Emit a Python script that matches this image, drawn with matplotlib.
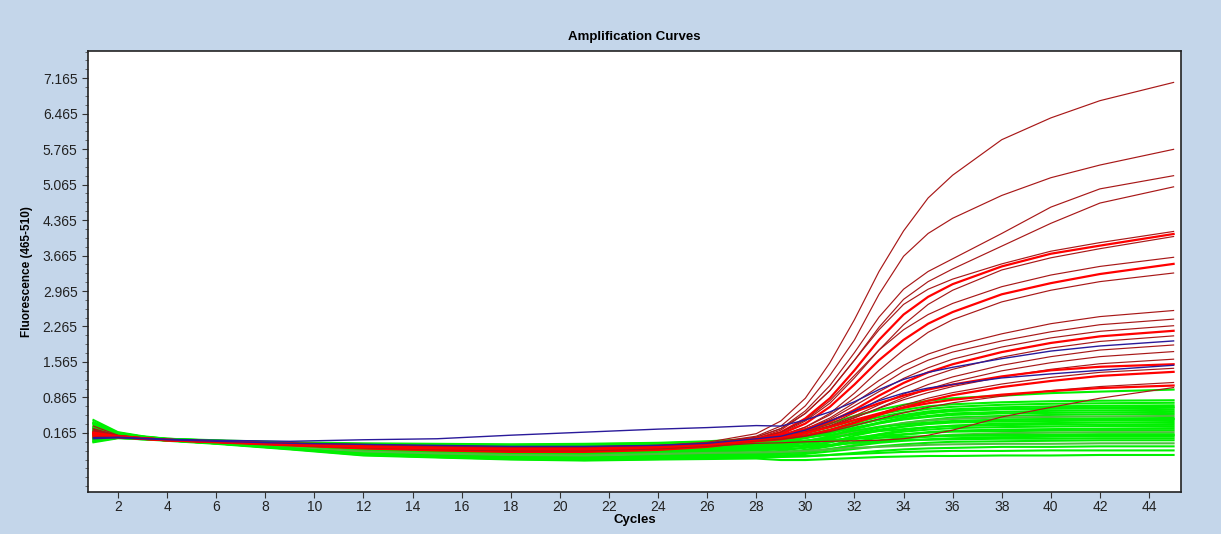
import matplotlib
matplotlib.use("Agg")
import matplotlib.pyplot as plt
from matplotlib.ticker import FixedLocator, MultipleLocator

CYCLES = [1, 2, 3, 4, 6, 9, 12, 15, 18, 21, 24, 26, 28, 29, 30, 31, 32, 33, 34, 35, 36, 38, 40, 42, 45]

# positive samples (red)
R1 = [0.30, 0.12, 0.07, 0.04, 0.00, -0.05, -0.10, -0.12, -0.14, -0.12, -0.08, -0.02, 0.15, 0.40, 0.85, 1.55, 2.40, 3.35, 4.15, 4.80, 5.25, 5.95, 6.38, 6.72, 7.08]
R2 = [0.20, 0.10, 0.06, 0.03, 0.00, -0.06, -0.12, -0.14, -0.16, -0.15, -0.10, -0.04, 0.10, 0.30, 0.70, 1.30, 2.00, 2.90, 3.65, 4.10, 4.40, 4.85, 5.20, 5.45, 5.76]
R3 = [0.15, 0.09, 0.06, 0.03, -0.01, -0.04, -0.08, -0.12, -0.15, -0.14, -0.10, -0.05, 0.08, 0.25, 0.60, 1.10, 1.75, 2.45, 3.00, 3.35, 3.60, 4.10, 4.62, 4.98, 5.24]
R4 = [0.12, 0.08, 0.05, 0.02, -0.02, -0.06, -0.10, -0.14, -0.18, -0.18, -0.13, -0.07, 0.05, 0.22, 0.55, 1.00, 1.60, 2.25, 2.80, 3.15, 3.40, 3.85, 4.30, 4.70, 5.02]
R5 = [0.25, 0.11, 0.06, 0.03, 0.00, -0.03, -0.06, -0.10, -0.12, -0.12, -0.09, -0.04, 0.08, 0.25, 0.55, 1.00, 1.60, 2.20, 2.70, 3.00, 3.20, 3.50, 3.75, 3.92, 4.14]
R6 = [0.18, 0.10, 0.06, 0.03, -0.01, -0.05, -0.10, -0.13, -0.16, -0.16, -0.12, -0.06, 0.05, 0.18, 0.45, 0.85, 1.40, 2.00, 2.50, 2.85, 3.10, 3.45, 3.70, 3.86, 4.09]
R7 = [0.10, 0.08, 0.05, 0.02, -0.02, -0.07, -0.13, -0.16, -0.19, -0.19, -0.15, -0.09, 0.03, 0.15, 0.40, 0.75, 1.25, 1.80, 2.30, 2.70, 2.98, 3.38, 3.62, 3.80, 4.04]
R8 = [0.22, 0.11, 0.06, 0.03, 0.00, -0.04, -0.08, -0.11, -0.13, -0.13, -0.10, -0.05, 0.05, 0.18, 0.42, 0.80, 1.30, 1.80, 2.20, 2.50, 2.72, 3.05, 3.28, 3.45, 3.63]
R9 = [0.14, 0.09, 0.05, 0.02, -0.01, -0.06, -0.11, -0.14, -0.17, -0.17, -0.13, -0.08, 0.04, 0.14, 0.35, 0.68, 1.12, 1.60, 2.00, 2.32, 2.55, 2.90, 3.12, 3.30, 3.50]
R10 = [0.08, 0.07, 0.05, 0.02, -0.02, -0.08, -0.14, -0.17, -0.20, -0.20, -0.16, -0.10, 0.02, 0.10, 0.28, 0.55, 0.95, 1.40, 1.80, 2.15, 2.40, 2.75, 2.98, 3.15, 3.32]
R11 = [0.18, 0.10, 0.06, 0.03, 0.00, -0.05, -0.09, -0.12, -0.14, -0.14, -0.11, -0.06, 0.04, 0.12, 0.28, 0.52, 0.85, 1.20, 1.50, 1.72, 1.88, 2.12, 2.32, 2.46, 2.58]
R12 = [0.12, 0.09, 0.05, 0.02, -0.01, -0.07, -0.12, -0.15, -0.18, -0.18, -0.14, -0.09, 0.02, 0.10, 0.24, 0.46, 0.76, 1.08, 1.38, 1.60, 1.76, 1.98, 2.16, 2.30, 2.41]
R13 = [0.22, 0.11, 0.06, 0.03, 0.00, -0.04, -0.08, -0.10, -0.12, -0.12, -0.09, -0.05, 0.04, 0.11, 0.24, 0.43, 0.70, 0.98, 1.24, 1.45, 1.62, 1.86, 2.04, 2.17, 2.28]
R14 = [0.16, 0.10, 0.06, 0.03, -0.01, -0.06, -0.11, -0.14, -0.16, -0.16, -0.12, -0.07, 0.03, 0.09, 0.20, 0.38, 0.62, 0.90, 1.15, 1.36, 1.52, 1.76, 1.94, 2.07, 2.18]
R15 = [0.10, 0.08, 0.05, 0.02, -0.02, -0.08, -0.14, -0.17, -0.20, -0.20, -0.16, -0.10, 0.01, 0.07, 0.18, 0.34, 0.56, 0.82, 1.06, 1.26, 1.42, 1.66, 1.84, 1.97, 2.08]
R16 = [0.20, 0.10, 0.06, 0.03, 0.00, -0.05, -0.09, -0.12, -0.14, -0.14, -0.10, -0.05, 0.03, 0.08, 0.17, 0.31, 0.50, 0.72, 0.93, 1.12, 1.27, 1.50, 1.67, 1.80, 1.90]
R17 = [0.13, 0.09, 0.05, 0.02, -0.01, -0.07, -0.12, -0.15, -0.18, -0.17, -0.13, -0.08, 0.02, 0.07, 0.15, 0.28, 0.46, 0.66, 0.86, 1.03, 1.17, 1.39, 1.55, 1.67, 1.77]
R18 = [0.24, 0.11, 0.06, 0.03, 0.00, -0.04, -0.07, -0.09, -0.11, -0.11, -0.08, -0.04, 0.04, 0.09, 0.17, 0.30, 0.47, 0.65, 0.82, 0.96, 1.08, 1.27, 1.42, 1.53, 1.62]
R19 = [0.14, 0.09, 0.05, 0.02, -0.01, -0.06, -0.12, -0.15, -0.17, -0.17, -0.13, -0.08, 0.01, 0.05, 0.12, 0.23, 0.38, 0.55, 0.71, 0.85, 0.96, 1.13, 1.26, 1.36, 1.44]
R20 = [0.09, 0.08, 0.05, 0.02, -0.02, -0.08, -0.14, -0.18, -0.21, -0.21, -0.17, -0.11, 0.00, 0.04, 0.11, 0.22, 0.36, 0.52, 0.67, 0.80, 0.91, 1.07, 1.19, 1.29, 1.37]
R21 = [0.19, 0.10, 0.06, 0.03, 0.00, -0.05, -0.10, -0.12, -0.14, -0.14, -0.11, -0.06, 0.01, 0.04, 0.10, 0.19, 0.31, 0.44, 0.56, 0.67, 0.76, 0.89, 1.00, 1.08, 1.16]
R22 = [0.11, 0.08, 0.05, 0.02, -0.02, -0.07, -0.13, -0.16, -0.19, -0.19, -0.15, -0.10, -0.04, -0.03, -0.01, 0.00, 0.01, 0.02, 0.05, 0.12, 0.22, 0.48, 0.67, 0.85, 1.06]
R23 = [0.17, 0.10, 0.06, 0.03, 0.00, -0.05, -0.10, -0.13, -0.15, -0.15, -0.11, -0.06, 0.05, 0.12, 0.24, 0.40, 0.58, 0.75, 0.90, 1.02, 1.12, 1.28, 1.40, 1.47, 1.52]
R24 = [0.13, 0.09, 0.05, 0.02, -0.01, -0.06, -0.11, -0.14, -0.16, -0.16, -0.12, -0.07, 0.03, 0.08, 0.16, 0.28, 0.42, 0.55, 0.66, 0.75, 0.82, 0.92, 0.99, 1.05, 1.10]

# blue samples
B1 = [0.07, 0.08, 0.06, 0.04, 0.02, 0.00, 0.03, 0.05, 0.12, 0.18, 0.24, 0.27, 0.31, 0.30, 0.42, 0.58, 0.78, 1.02, 1.22, 1.36, 1.46, 1.63, 1.78, 1.88, 1.98]
B2 = [0.05, 0.07, 0.05, 0.03, 0.00, -0.04, -0.06, -0.08, -0.10, -0.10, -0.08, -0.04, 0.05, 0.10, 0.22, 0.40, 0.60, 0.80, 0.95, 1.05, 1.12, 1.25, 1.33, 1.40, 1.50]

# negative samples (green)
G1 = [0.42, 0.18, 0.10, 0.05, 0.02, -0.02, -0.04, -0.05, -0.06, -0.05, -0.03, 0.00, 0.05, 0.09, 0.16, 0.28, 0.41, 0.53, 0.62, 0.69, 0.73, 0.77, 0.79, 0.80, 0.81]
G2 = [0.36, 0.16, 0.09, 0.04, 0.01, -0.04, -0.07, -0.08, -0.10, -0.09, -0.06, -0.03, 0.00, 0.04, 0.11, 0.23, 0.36, 0.48, 0.57, 0.64, 0.68, 0.72, 0.74, 0.75, 0.76]
G3 = [0.30, 0.14, 0.08, 0.04, 0.00, -0.06, -0.10, -0.12, -0.14, -0.14, -0.11, -0.08, -0.05, -0.01, 0.06, 0.18, 0.31, 0.43, 0.52, 0.59, 0.63, 0.67, 0.69, 0.70, 0.71]
G4 = [0.25, 0.13, 0.08, 0.04, 0.01, -0.03, -0.06, -0.06, -0.07, -0.06, -0.04, -0.01, 0.02, 0.05, 0.12, 0.21, 0.33, 0.42, 0.50, 0.56, 0.60, 0.63, 0.64, 0.65, 0.66]
G5 = [0.20, 0.12, 0.07, 0.03, -0.01, -0.08, -0.14, -0.17, -0.20, -0.20, -0.17, -0.15, -0.12, -0.08, -0.01, 0.10, 0.24, 0.35, 0.44, 0.50, 0.55, 0.58, 0.60, 0.61, 0.62]
G6 = [0.38, 0.17, 0.09, 0.05, 0.01, -0.03, -0.07, -0.09, -0.10, -0.10, -0.07, -0.04, -0.02, 0.01, 0.07, 0.16, 0.27, 0.36, 0.43, 0.48, 0.52, 0.55, 0.56, 0.57, 0.58]
G7 = [0.12, 0.10, 0.06, 0.03, -0.02, -0.10, -0.18, -0.22, -0.26, -0.27, -0.24, -0.21, -0.18, -0.14, -0.07, 0.04, 0.17, 0.27, 0.36, 0.42, 0.47, 0.50, 0.52, 0.53, 0.54]
G8 = [0.28, 0.15, 0.08, 0.04, 0.00, -0.05, -0.11, -0.13, -0.15, -0.15, -0.12, -0.10, -0.08, -0.05, 0.01, 0.09, 0.20, 0.29, 0.36, 0.41, 0.44, 0.47, 0.48, 0.49, 0.50]
G9 = [0.05, 0.08, 0.05, 0.02, -0.03, -0.12, -0.22, -0.26, -0.30, -0.31, -0.28, -0.25, -0.22, -0.19, -0.12, -0.02, 0.11, 0.21, 0.29, 0.35, 0.39, 0.43, 0.44, 0.45, 0.46]
G10 = [0.22, 0.13, 0.07, 0.03, -0.01, -0.07, -0.12, -0.15, -0.17, -0.17, -0.14, -0.12, -0.10, -0.07, -0.02, 0.06, 0.15, 0.23, 0.29, 0.34, 0.37, 0.39, 0.40, 0.41, 0.42]
G11 = [0.00, 0.07, 0.05, 0.02, -0.04, -0.14, -0.25, -0.29, -0.33, -0.35, -0.33, -0.30, -0.28, -0.25, -0.18, -0.08, 0.04, 0.14, 0.22, 0.27, 0.31, 0.35, 0.36, 0.37, 0.38]
G12 = [0.33, 0.15, 0.09, 0.04, 0.00, -0.04, -0.08, -0.10, -0.12, -0.11, -0.08, -0.06, -0.05, -0.03, 0.01, 0.07, 0.14, 0.20, 0.24, 0.28, 0.30, 0.32, 0.33, 0.33, 0.34]
G13 = [0.16, 0.11, 0.06, 0.03, -0.02, -0.09, -0.16, -0.19, -0.22, -0.22, -0.19, -0.17, -0.15, -0.13, -0.08, -0.02, 0.07, 0.13, 0.19, 0.23, 0.26, 0.28, 0.29, 0.30, 0.30]
G14 = [0.08, 0.09, 0.05, 0.02, -0.03, -0.13, -0.23, -0.27, -0.31, -0.32, -0.30, -0.27, -0.25, -0.22, -0.17, -0.10, -0.01, 0.07, 0.13, 0.18, 0.21, 0.23, 0.24, 0.25, 0.26]
G15 = [0.26, 0.14, 0.08, 0.04, 0.00, -0.06, -0.10, -0.12, -0.14, -0.13, -0.11, -0.09, -0.08, -0.06, -0.03, 0.01, 0.06, 0.11, 0.14, 0.17, 0.19, 0.20, 0.21, 0.22, 0.22]
G16 = [0.02, 0.07, 0.04, 0.02, -0.04, -0.15, -0.26, -0.31, -0.34, -0.36, -0.34, -0.32, -0.30, -0.28, -0.23, -0.16, -0.07, 0.00, 0.06, 0.10, 0.13, 0.16, 0.17, 0.18, 0.18]
G17 = [0.18, 0.12, 0.07, 0.03, -0.02, -0.10, -0.18, -0.21, -0.24, -0.24, -0.21, -0.19, -0.18, -0.16, -0.13, -0.08, -0.03, 0.02, 0.06, 0.09, 0.11, 0.13, 0.13, 0.14, 0.14]
G18 = [0.10, 0.09, 0.05, 0.02, -0.03, -0.13, -0.24, -0.28, -0.32, -0.33, -0.30, -0.28, -0.26, -0.24, -0.21, -0.15, -0.09, -0.03, 0.01, 0.04, 0.06, 0.08, 0.09, 0.10, 0.10]
G19 = [0.24, 0.13, 0.08, 0.04, 0.00, -0.07, -0.13, -0.15, -0.17, -0.16, -0.14, -0.13, -0.12, -0.11, -0.09, -0.07, -0.03, -0.01, 0.02, 0.03, 0.04, 0.05, 0.05, 0.06, 0.06]
G20 = [0.04, 0.08, 0.05, 0.02, -0.04, -0.15, -0.27, -0.31, -0.35, -0.37, -0.35, -0.32, -0.30, -0.28, -0.25, -0.20, -0.15, -0.10, -0.06, -0.03, -0.01, 0.00, 0.01, 0.02, 0.02]
G21 = [0.14, 0.10, 0.06, 0.03, -0.02, -0.11, -0.20, -0.24, -0.27, -0.28, -0.25, -0.23, -0.22, -0.21, -0.19, -0.16, -0.13, -0.11, -0.09, -0.07, -0.06, -0.05, -0.05, -0.04, -0.04]
G22 = [0.06, 0.08, 0.05, 0.02, -0.04, -0.14, -0.26, -0.30, -0.34, -0.36, -0.34, -0.33, -0.32, -0.31, -0.30, -0.27, -0.23, -0.19, -0.16, -0.14, -0.13, -0.11, -0.11, -0.10, -0.10]
G23 = [0.00, 0.07, 0.04, 0.02, -0.04, -0.14, -0.25, -0.30, -0.33, -0.35, -0.32, -0.30, -0.28, -0.29, -0.29, -0.27, -0.25, -0.23, -0.21, -0.20, -0.19, -0.19, -0.18, -0.18, -0.18]
G24 = [-0.02, 0.06, 0.04, 0.01, -0.05, -0.16, -0.28, -0.32, -0.36, -0.38, -0.36, -0.35, -0.34, -0.37, -0.37, -0.35, -0.33, -0.31, -0.30, -0.29, -0.29, -0.28, -0.28, -0.27, -0.27]
G25 = [0.20, 0.11, 0.07, 0.03, -0.01, -0.05, -0.08, -0.10, -0.12, -0.11, -0.08, -0.04, 0.00, 0.08, 0.20, 0.35, 0.50, 0.62, 0.72, 0.80, 0.85, 0.90, 0.95, 0.98, 1.02]
G26 = [0.15, 0.11, 0.06, 0.03, -0.02, -0.09, -0.15, -0.18, -0.21, -0.21, -0.18, -0.16, -0.15, -0.11, -0.03, 0.10, 0.25, 0.37, 0.47, 0.55, 0.60, 0.64, 0.66, 0.67, 0.68]
G27 = [0.35, 0.16, 0.09, 0.05, 0.01, -0.03, -0.06, -0.07, -0.08, -0.07, -0.05, -0.02, 0.00, 0.02, 0.07, 0.13, 0.21, 0.28, 0.33, 0.37, 0.40, 0.42, 0.43, 0.44, 0.44]
G28 = [0.27, 0.14, 0.08, 0.04, 0.00, -0.04, -0.08, -0.09, -0.11, -0.10, -0.07, -0.04, -0.02, -0.01, 0.01, 0.03, 0.05, 0.07, 0.09, 0.10, 0.11, 0.11, 0.12, 0.12, 0.12]

RED = [R1, R2, R3, R4, R5, R6, R7, R8, R9, R10, R11, R12, R13, R14, R15, R16,
       R17, R18, R19, R20, R21, R22, R23, R24]
BLUE = [B1, B2]
GREEN = [G1, G2, G3, G4, G5, G6, G7, G8, G9, G10, G11, G12, G13, G14, G15, G16,
         G17, G18, G19, G20, G21, G22, G23, G24, G25, G26, G27, G28]

Y_TICKS = [0.165, 0.865, 1.565, 2.265, 2.965, 3.665, 4.365, 5.065, 5.765, 6.465, 7.165]
X_TICKS = list(range(2, 46, 2))

BG = "#c4d6ea"
BRIGHT_RED = {5, 8, 13, 19, 22, 23}
DULL_GREEN = {7, 15, 20}


def main():
    plt.rcParams['font.family'] = ['Liberation Sans', 'DejaVu Sans']
    narrow = ['Liberation Sans Narrow', 'DejaVu Sans Condensed', 'Liberation Sans']

    fig = plt.figure(figsize=(12.21, 5.34), dpi=100, facecolor=BG)
    ax = fig.add_axes([0.0721, 0.0787, 0.8951, 0.8258])
    ax.set_facecolor("white")

    for i, curve in enumerate(GREEN):
        col = "#4fbf3f" if i in DULL_GREEN else "#00f000"
        ax.plot(CYCLES, curve, color=col, lw=1.5, solid_joinstyle="round")

    for i, curve in enumerate(RED):
        if i in BRIGHT_RED:
            ax.plot(CYCLES, curve, color="#ff0000", lw=1.6)
        else:
            ax.plot(CYCLES, curve, color="#a81818", lw=0.85)

    for curve in BLUE:
        ax.plot(CYCLES, curve, color="#2a1a9a", lw=1.0)

    ax.set_xlim(0.78, 45.3)
    ax.set_ylim(-1.0, 7.7)

    ax.xaxis.set_major_locator(FixedLocator(X_TICKS))
    ax.yaxis.set_major_locator(FixedLocator(Y_TICKS))
    ax.yaxis.set_minor_locator(MultipleLocator(0.175, offset=0.165))
    ax.set_yticklabels([f"{v:.3f}" for v in Y_TICKS])

    ax.tick_params(axis="both", which="major", labelsize=10, length=4,
                   width=0.8, colors="#333333", labelcolor="#222222")
    ax.tick_params(axis="y", which="minor", length=2.5, width=0.6, colors="#555555")
    ax.tick_params(axis="x", pad=2)

    for sp in ax.spines.values():
        sp.set_linewidth(1.2)
        sp.set_color("#222222")

    ax.set_title("Amplification Curves", fontsize=9.5, fontweight="bold", pad=8)
    ax.set_xlabel("Cycles", fontsize=9.5, fontweight="bold", family=narrow, labelpad=0)
    ax.set_ylabel("Fluorescence (465-510)", fontsize=8.5, fontweight="bold",
                  family=narrow, labelpad=7)

    fig.savefig("out.png", dpi=100, facecolor=BG)


if __name__ == "__main__":
    main()
